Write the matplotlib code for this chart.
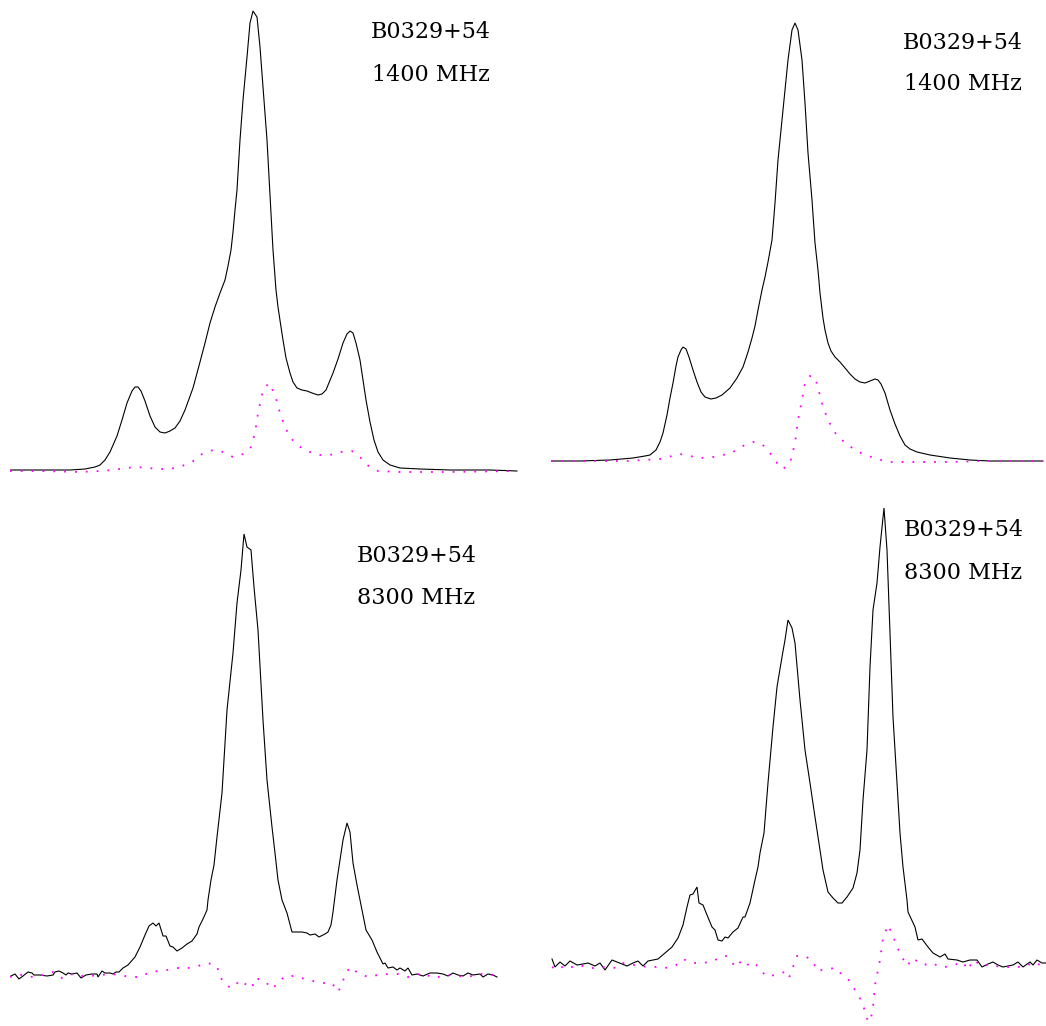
import matplotlib
matplotlib.use("Agg")
import matplotlib.pyplot as plt
import numpy as np

W, H = 1046, 1026

source_name = "B0329+54"
freq_labels = ["1400 MHz", "1400 MHz", "8300 MHz", "8300 MHz"]

# ---------------- Panel 1 (1400 MHz, left) ----------------
p1_I_x = [0, 30, 60, 75, 85, 90, 95, 100, 107, 112, 117, 122, 125, 128, 131, 135, 140, 145, 150, 155,
          160, 165, 170, 175, 183, 190, 195, 200, 205, 210, 215, 218, 221, 223, 225, 227, 230, 233, 237,
          240, 243, 247, 250, 253, 257, 260, 263, 266, 268, 271, 273, 276, 280, 283, 287, 292, 297, 302,
          308, 312, 316, 323, 328, 333, 337, 340, 343, 346, 350, 353, 356, 360, 364, 368, 373, 380, 390,
          410, 440, 480, 507]
p1_I = [0, 0, 0, 1, 3, 5, 10, 18, 34, 50, 67, 79, 83, 83, 79, 69, 54, 43, 38, 37,
        39, 42, 49, 60, 82, 108, 127, 147, 163, 177, 190, 204, 220, 238, 260, 280, 330, 370, 413,
        447, 459, 453, 423, 383, 330, 275, 220, 180, 163, 143, 130, 112, 97, 88, 82, 80, 79, 77,
        75, 76, 80, 97, 111, 127, 136, 139, 137, 127, 110, 90, 70, 48, 30, 18, 10, 5, 2,
        1, 0, 0, -1]
p1_P_x = [0, 30, 70, 90, 103, 115, 127, 138, 148, 160, 172, 182, 192, 203, 213, 223, 233, 241, 245,
          248, 253, 259, 265, 270, 275, 280, 287, 297, 308, 320, 330, 342, 350, 357, 368, 390, 440, 507]
p1_P = [-1, -1, -2, -1, 0, 2, 3, 2, 1, 1, 4, 8, 16, 20, 18, 13, 16, 23, 37,
        57, 80, 87, 75, 57, 43, 33, 25, 19, 15, 15, 18, 19, 13, 5, -1, -2, -2, -1]

# ---------------- Panel 2 (1400 MHz, right) ----------------
p2_I_x = [0, 29, 59, 82, 94, 99, 105, 109, 112, 116, 119, 122, 125, 127, 130, 132, 135, 138, 142, 146,
          150, 154, 160, 165, 171, 179, 186, 192, 197, 201, 204, 207, 211, 214, 217, 221, 224, 227, 232,
          237, 241, 244, 247, 251, 254, 257, 261, 264, 267, 269, 272, 274, 277, 280, 284, 289, 294, 299,
          304, 309, 314, 319, 324, 327, 330, 334, 339, 344, 349, 354, 359, 366, 379, 399, 419, 439, 469, 492]
p2_I = [0, 0, 1, 3, 5, 6, 11, 19, 28, 46, 63, 78, 95, 104, 111, 114, 112, 104, 91, 79,
        69, 64, 62, 63, 66, 73, 83, 94, 109, 123, 135, 151, 171, 184, 199, 221, 258, 301, 351,
        401, 431, 438, 431, 401, 358, 308, 261, 218, 191, 168, 143, 131, 118, 110, 104, 99, 93, 87,
        82, 79, 78, 80, 82, 81, 77, 68, 51, 37, 25, 16, 12, 9, 6, 3, 1, 0, 0, 0]
p2_P_x = [0, 76, 109, 129, 149, 162, 172, 182, 192, 202, 211, 219, 226, 232, 239, 244, 247, 251, 254,
          259, 264, 267, 272, 276, 281, 287, 296, 304, 314, 324, 336, 366, 399, 432, 492]
p2_P = [0, 0, 2, 7, 3, 4, 6, 9, 15, 19, 17, 8, -2, -8, -2, 18, 41, 61, 78,
        85, 84, 73, 54, 44, 33, 24, 17, 11, 6, 3, -1, -1, -1, 0, 0]

# ---------------- Panel 3 (8300 MHz, left) ----------------
p3_I_x = [-1, 5, 9, 13, 18, 22, 24, 30, 37, 43, 45, 49, 53, 56, 58, 62, 67, 71, 76, 82, 87, 88, 92, 95,
          100, 103, 106, 109, 113, 118, 125, 130, 135, 139, 143, 146, 149, 153, 156, 160, 163, 167, 172,
          177, 182, 187, 189, 193, 197, 198, 201, 204, 207, 212, 217, 223, 227, 231, 234, 237, 241, 244,
          248, 253, 257, 262, 265, 268, 272, 277, 282, 287, 292, 297, 300, 305, 309, 315, 318, 321, 323,
          327, 330, 333, 337, 340, 343, 347, 351, 356, 362, 367, 373, 375, 378, 383, 387, 390, 395, 398,
          402, 407, 413, 420, 427, 433, 438, 443, 448, 453, 458, 463, 470, 473, 478, 483, 487]
p3_I = [-2, 1, -4, -1, 3, 2, 0, 0, -1, 0, 3, 4, 2, 0, 2, 1, 2, -3, 0, 1, 1, -2, 4, 2,
        2, 1, 3, 3, 7, 10, 18, 28, 40, 49, 52, 49, 52, 39, 39, 29, 28, 24, 27,
        31, 34, 41, 48, 56, 65, 75, 95, 110, 138, 182, 265, 322, 372, 405, 441, 428, 425, 388,
        345, 255, 195, 148, 122, 95, 75, 62, 43, 43, 43, 42, 40, 41, 38, 41, 43, 50, 63,
        95, 115, 135, 152, 143, 112, 90, 70, 45, 35, 23, 11, 12, 7, 8, 5, 7, 4, 7,
        0, 1, -1, 2, 2, 1, -1, 2, 0, -1, 2, 0, 1, -2, 1, 0, -2]
p3_P_x = [0, 8, 15, 23, 33, 43, 52, 60, 70, 80, 90, 100, 110, 120, 130, 140, 157, 168, 178, 188, 198,
          207, 210, 217, 223, 230, 238, 242, 245, 255, 262, 267, 275, 285, 295, 303, 312, 322, 328, 332,
          335, 340, 348, 358, 368, 378, 388, 398, 413, 423, 438, 457, 470, 485]
p3_P = [-2, 1, -1, -2, 0, 3, -3, 1, -1, -1, 0, 1, 0, -2, -2, 3, 5, 7, 7, 9, 12,
        9, -2, -11, -13, -5, -11, -13, -3, -6, -14, -9, -1, -1, -4, -6, -8, -8, -17, -9,
        0, 8, 2, -2, 0, 1, 1, -2, 2, -3, 0, -2, 1, 0]

# ---------------- Panel 4 (8300 MHz, right) ----------------
p4_I_x = [1, 4, 9, 14, 19, 26, 32, 37, 44, 49, 54, 61, 66, 71, 76, 82, 87, 92, 97, 102, 107, 114, 121,
          127, 132, 136, 139, 142, 146, 148, 152, 156, 161, 164, 167, 171, 174, 177, 182, 187, 192, 194,
          199, 204, 207, 209, 213, 217, 222, 226, 231, 234, 237, 241, 244, 249, 254, 259, 264, 269, 272,
          277, 282, 287, 291, 296, 302, 306, 309, 312, 316, 319, 322, 326, 329, 333, 336, 339, 342, 346,
          349, 352, 356, 357, 364, 367, 371, 377, 382, 389, 394, 397, 406, 412, 419, 426, 431, 437, 442,
          447, 452, 457, 462, 467, 472, 479, 482, 486, 491, 495]
p4_I = [4, -4, 1, -3, 2, -2, -1, 0, -3, 0, -7, 3, 1, -1, -3, 0, 2, -3, 2, 3, 4, 10, 16,
        25, 38, 56, 68, 69, 76, 60, 58, 48, 36, 33, 23, 22, 26, 25, 31, 35, 46, 46,
        60, 83, 96, 110, 130, 180, 236, 276, 306, 323, 343, 335, 320, 263, 213, 180, 146, 113, 93,
        71, 65, 60, 60, 66, 75, 90, 113, 163, 213, 296, 353, 380, 416, 455, 413, 330, 246, 180,
        130, 96, 63, 51, 36, 23, 24, 16, 10, 6, 9, 4, 3, 1, 3, 3, -4, -1, 1,
        -2, -4, -3, -2, 1, -4, 1, -2, 3, 0, 0]
p4_P_x = [1, 7, 14, 21, 29, 37, 44, 54, 66, 72, 79, 86, 96, 106, 114, 124, 132, 141, 149, 161, 169,
          175, 182, 187, 192, 198, 203, 211, 217, 226, 234, 238, 242, 246, 254, 262, 266, 276, 285, 292,
          299, 304, 310, 314, 317, 320, 322, 324, 329, 332, 337, 342, 346, 351, 356, 362, 367, 372, 382,
          388, 394, 403, 412, 417, 422, 432, 439, 449, 459, 466, 476, 482, 492]
p4_P = [-4, -7, -2, -4, -2, -5, -5, -4, -5, 0, -2, -2, -4, -4, -5, -3, 4, 0, 0, 1, 6,
        7, -1, 4, -4, -1, 1, -9, -14, -11, -9, -15, -4, 7, 7, 2, -8, -6, -5, -13,
        -18, -27, -37, -48, -59, -55, -44, -22, 3, 25, 38, 27, 16, 6, -3, 5, 1, -2, 0,
        -4, -4, -2, 1, -7, 3, -3, -1, -4, -4, -4, -3, 1, -3]

panels = [
    (p1_I_x, p1_I, p1_P_x, p1_P),
    (p2_I_x, p2_I, p2_P_x, p2_P),
    (p3_I_x, p3_I, p3_P_x, p3_P),
    (p4_I_x, p4_I, p4_P_x, p4_P),
]

# layout (pixels): left edge, baseline row, width
layout = [(10, 470, 510), (551, 461, 495), (10, 975, 490), (551, 963, 495)]
text_pos = [((371, 32), (372, 75)), ((903, 43), (904, 84)),
            ((357, 556), (357, 598)), ((904, 530), (904, 573))]

fig = plt.figure(figsize=(W / 100, H / 100), dpi=100)
fig.patch.set_facecolor("white")

ylo, yhi = -70, 500
for (ix, iv, px, pv), (x0, base, wid), (t1, t2), flab in zip(panels, layout, text_pos, freq_labels):
    ax = fig.add_axes([x0 / W, (H - (base - ylo)) / H, wid / W, (yhi - ylo) / H])
    ax.set_xlim(0, wid)
    ax.set_ylim(ylo, yhi)
    ax.axis("off")
    ax.plot(ix, iv, color="black", lw=0.8, solid_joinstyle="miter")
    ax.plot(px, pv, color="#ff00ff", lw=1.3, linestyle=(0, (1, 5)))
    fig.text(t1[0] / W, 1 - t1[1] / H, source_name, family="DejaVu Serif",
             fontsize=16, va="center", ha="left")
    fig.text(t2[0] / W, 1 - t2[1] / H, flab, family="DejaVu Serif",
             fontsize=16, va="center", ha="left")

fig.savefig("out.png", dpi=100, facecolor="white")
